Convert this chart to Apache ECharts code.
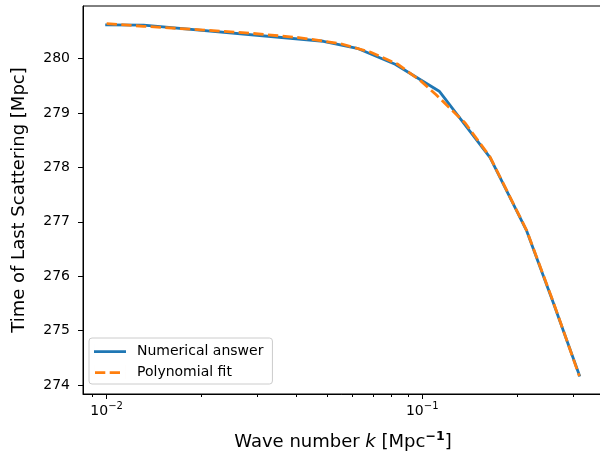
<!DOCTYPE html>
<html><head><meta charset="utf-8">
<script src="https://cdn.jsdelivr.net/npm/echarts@6/dist/echarts.min.js"></script>
<style>html,body{margin:0;padding:0;background:#fff}#c{width:600px;height:452px}</style>
</head><body><div id="c"></div>
<script>
// Numerical answer (piecewise line)
const numK = [0.01, 0.0131, 0.0486, 0.0622, 0.0821, 0.1132, 0.1641, 0.2145, 0.2597, 0.3147];
const numT = [280.62, 280.615, 280.318, 280.189, 279.895, 279.40, 278.178, 276.828, 275.524, 274.18];
// Polynomial fit (smooth)
const fitK = [0.01, 0.0131, 0.0198, 0.0286, 0.0411, 0.0550, 0.0684, 0.0834, 0.0985, 0.1107, 0.1368, 0.1641, 0.2145, 0.2597, 0.3147];
const fitT = [280.642, 280.593, 280.529, 280.465, 280.382, 280.275, 280.12, 279.90, 279.60, 279.335, 278.815, 278.19, 276.835, 275.54, 274.165];
// Axis ticks
const yTicks = [274, 275, 276, 277, 278, 279, 280];
const xMajor = [0.01, 0.1];
const xMinor = [0.009, 0.02, 0.03, 0.04, 0.05, 0.06, 0.07, 0.08, 0.09, 0.2, 0.3];
const seriesNames = ['Numerical answer', 'Polynomial fit'];

const FONT = 'DejaVu Sans';
const xMin = 0.008415, xMax = 0.374, yMin = 273.835, yMax = 280.966;
const blue = '#1f77b4', orange = '#ff7f0e';

const chart = echarts.init(document.getElementById('c'), null, {renderer: 'canvas'});
const supRich = {
  base: {fontFamily: FONT, fontSize: 14, color: '#000', verticalAlign: 'bottom', lineHeight: 16},
  sup: {fontFamily: FONT, fontSize: 10, color: '#000', verticalAlign: 'bottom', lineHeight: 10, padding: [0, 0, 7, 0]}
};
chart.setOption({
  animation: false,
  backgroundColor: '#fff',
  grid: {left: 83, top: 6, right: -3, bottom: 58, show: true, borderColor: '#000', borderWidth: 1,
    backgroundColor: 'transparent', containLabel: false, outerBoundsMode: 'none'},
  legend: {
    orient: 'vertical', left: 89, top: 338,
    padding: [6, 9, 5, 5],
    itemWidth: 32, itemHeight: 14, itemGap: 7,
    backgroundColor: 'rgba(255,255,255,0.8)', borderColor: '#cccccc', borderWidth: 1, borderRadius: 3,
    textStyle: {fontFamily: FONT, fontSize: 14, color: '#000', padding: [0, 0, 0, 6]},
    data: [
      {name: seriesNames[0], icon: 'path://M0,6.3h32v2.8h-32z M0,0h0.01v14h-0.01z', itemStyle: {color: blue}},
      {name: seriesNames[1], icon: 'path://M1,6.3h10.3v2.8h-10.3z M15.7,6.3h10.3v2.8h-10.3z M0,0h0.01v14h-0.01z M31.99,0h0.01v14h-0.01z', itemStyle: {color: orange}}
    ]
  },
  xAxis: [{
    type: 'log', min: xMin, max: xMax, gridIndex: 0,
    name: '{t|Wave number }{i|k}{t| [Mpc}{s|−1}{t|]}', nameLocation: 'middle', nameGap: 35,
    nameTextStyle: {fontFamily: FONT, fontSize: 18, color: '#000',
      rich: {
        t: {fontFamily: FONT, fontSize: 18, color: '#000', verticalAlign: 'bottom', lineHeight: 22},
        i: {fontFamily: FONT, fontSize: 18, fontStyle: 'italic', color: '#000', verticalAlign: 'bottom', lineHeight: 22},
        s: {fontFamily: FONT, fontSize: 12.6, color: '#000', fontWeight: 'bold', verticalAlign: 'bottom', lineHeight: 13, padding: [0, 0, 8, 0]}
      }},
    axisLine: {show: true, lineStyle: {color: '#000', width: 1}},
    axisTick: {show: true, length: 5, lineStyle: {color: '#000', width: 1}, customValues: xMajor},
    axisLabel: {show: true, margin: 8, customValues: xMajor,
      formatter: v => '{base|10}{sup|−' + Math.abs(Math.round(Math.log10(v))) + '}',
      rich: supRich},
    splitLine: {show: false}, minorTick: {show: false}
  }, {
    type: 'log', min: xMin, max: xMax, gridIndex: 0, position: 'bottom',
    axisLine: {show: false},
    axisTick: {show: true, length: 3, lineStyle: {color: '#000', width: 1}, customValues: xMinor},
    axisLabel: {show: false},
    splitLine: {show: false}
  }],
  yAxis: {
    type: 'value', min: yMin, max: yMax,
    name: 'Time of Last Scattering [Mpc]', nameLocation: 'middle', nameGap: 55,
    nameTextStyle: {fontFamily: FONT, fontSize: 18, color: '#000'},
    axisLine: {show: true, lineStyle: {color: '#000', width: 1}},
    axisTick: {show: true, length: 5, lineStyle: {color: '#000', width: 1}, customValues: yTicks},
    axisLabel: {show: true, margin: 13, customValues: yTicks, fontFamily: FONT, fontSize: 14, color: '#000',
      formatter: v => String(Math.round(v))},
    splitLine: {show: false}
  },
  series: [{
    name: seriesNames[0], type: 'line', xAxisIndex: 0,
    data: numK.map((k, i) => [k, numT[i]]),
    symbol: 'none', showSymbol: false,
    lineStyle: {color: blue, width: 2.8, cap: 'square', join: 'round'},
    itemStyle: {color: blue}, z: 2
  }, {
    name: seriesNames[1], type: 'line', xAxisIndex: 0,
    data: fitK.map((k, i) => [k, fitT[i]]),
    symbol: 'none', showSymbol: false, smooth: false,
    lineStyle: {color: orange, width: 2.8, type: [10.3, 4.4], cap: 'butt'},
    itemStyle: {color: orange}, z: 3
  }]
});
</script>
</body></html>
